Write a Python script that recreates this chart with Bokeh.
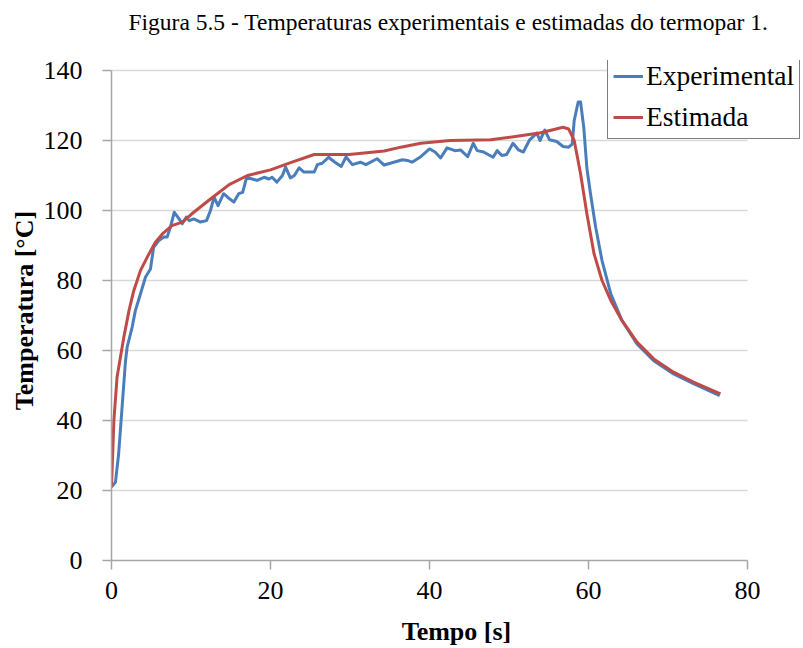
from bokeh.plotting import figure
from bokeh.models import Range1d, FixedTicker, Legend, LegendItem, Title
from bokeh.embed import file_html
from bokeh.resources import INLINE

t_exp = [0, 0.5, 0.9, 1.3, 1.76, 1.97, 2.6, 3.0, 3.65, 4.28, 4.9, 5.3, 5.95, 6.6, 7.0, 7.4, 7.9, 8.5,
         8.9, 9.4, 9.8, 10.35, 11.2, 11.95, 12.45, 12.9, 13.4, 14.1, 14.6, 15.4, 16.0, 16.5, 17.0,
         17.7, 18.3, 19.2, 19.8, 20.2, 20.8, 21.5, 21.9, 22.5, 23.0, 23.6, 24.2, 24.8, 25.5, 25.9,
         26.5, 27.3, 28.1, 28.9, 29.5, 30.3, 31.3, 32.0, 33.4, 34.3, 35.5, 36.6, 37.2, 37.8, 38.8,
         40.0, 40.7, 41.4, 42.2, 43.2, 43.9, 44.8, 45.5, 46.0, 46.8, 48.0, 48.5, 49.1, 49.7, 50.5,
         51.2, 51.8, 52.6, 53.5, 53.9, 54.5, 55.1, 56.0, 56.8, 57.5, 57.95, 58.2, 58.7, 59.0, 59.4,
         59.8, 60.25, 60.9, 61.7, 62.8, 64.2, 66.1, 68.2, 70.7, 73.2, 76.5]
temp_exp = [21, 22.4, 30.5, 42.8, 57, 61, 66.7, 71.4, 76.2, 81, 83.3, 89.5, 91.4, 92.4, 92.4, 95.2,
            99.5, 97.6, 96.2, 98.1, 97.1, 97.6, 96.7, 97.1, 100, 103.8, 101.4, 104.8, 103.8, 102.4,
            104.8, 105.2, 109.5, 109, 108.6, 109.5, 109, 109.5, 108.1, 110, 112.4, 109.3, 110, 112.2,
            111, 111, 111, 113.1, 113.5, 115.2, 113.8, 112.6, 115.3, 113.1, 113.8, 113.1, 114.8, 113,
            113.8, 114.5, 114.3, 113.8, 115.2, 117.6, 116.7, 115.0, 117.9, 117.1, 117.3, 115.4, 119.2,
            117.1, 116.7, 115.2, 117.1, 115.7, 116, 119.2, 117.3, 116.7, 120.2, 122.1, 120, 123, 120.2,
            119.7, 118.3, 118.1, 119, 125.7, 131, 131, 123.8, 112, 104.8, 95.2, 85.7, 76.2, 68.6, 61.9,
            57.1, 53.3, 50.5, 47.1]

t_est = [0, 0.3, 0.7, 1.55, 2.2, 2.8, 3.65, 4.5, 5.5, 6.4, 7.6, 8.9, 10.35, 12.45, 14.8, 17.1, 20.0,
         22.7, 25.5, 29.9, 34.3, 36.4, 38.9, 42.6, 47.7, 50.6, 54.0, 56.8, 57.5, 58.2, 59.0, 59.8,
         60.7, 61.7, 62.8, 64.2, 66.1, 68.2, 70.7, 73.2, 76.6]
temp_est = [21, 40, 52.4, 63.8, 71.4, 77.1, 82.9, 86.7, 90.9, 93.3, 95.7, 96.7, 99.5, 103.3, 107.4,
            110, 111.6, 113.8, 116, 116, 117, 118.1, 119.2, 120, 120.2, 121.1, 122.2, 123.8, 123.3,
            120, 110.5, 99, 87.6, 80, 74.3, 68.6, 62.4, 57.6, 53.8, 51, 47.6]

x_ticks = [0, 20, 40, 60, 80]
y_ticks = [0, 20, 40, 60, 80, 100, 120, 140]

title_text = "Figura 5.5 - Temperaturas experimentais e estimadas do termopar 1."
x_label = "Tempo [s]"
y_label = "Temperatura [°C]"
series_names = ["Experimental", "Estimada"]

FONT = "Liberation Serif"
BLUE = "#4A7EBB"
RED = "#BE4B48"
GRAY = "#A6A6A6"

# frame is a bit wider/taller than the axes so the legend box can sit over the corner
p = figure(frame_width=690, frame_height=500, output_backend="svg", toolbar_location=None,
           title_location=None,
           x_range=Range1d(0, 86.79), y_range=Range1d(0, 142.86),
           min_border_left=111, min_border_right=0, min_border_top=60, min_border_bottom=80)
p.outline_line_color = None
p.background_fill_color = "white"
p.border_fill_color = "white"

# spacer (closest to the frame), then the caption above it
p.add_layout(Title(text=" ", text_font_size="10px", standoff=9), "above")
p.add_layout(Title(text=title_text, align="left", offset=17, text_font=FONT,
                   text_font_size="23.5px", text_font_style="normal", text_color="black",
                   standoff=8), "above")

p.xgrid.grid_line_color = None
p.ygrid.grid_line_color = None
# horizontal gridlines limited to the x axis extent
p.segment(x0=[x_ticks[0]] * len(y_ticks[1:]), x1=[x_ticks[-1]] * len(y_ticks[1:]),
          y0=y_ticks[1:], y1=y_ticks[1:], line_color="#D9D9D9", line_width=1.5)

r1 = p.line(t_exp, temp_exp, line_color=BLUE, line_width=3, line_join="round")
r2 = p.line(t_est, temp_est, line_color=RED, line_width=3, line_join="round")

for ax, ticks in ((p.xaxis[0], x_ticks), (p.yaxis[0], y_ticks)):
    ax.ticker = FixedTicker(ticks=ticks)
    ax.bounds = (ticks[0], ticks[-1])
    ax.minor_tick_line_color = None
    ax.major_tick_in = 0
    ax.major_tick_out = 9
    ax.axis_line_color = GRAY
    ax.axis_line_width = 1.5
    ax.major_tick_line_color = GRAY
    ax.major_tick_line_width = 1.5
    ax.major_label_text_font = FONT
    ax.major_label_text_font_size = "26px"
    ax.major_label_text_color = "black"
    ax.axis_label_text_font = FONT
    ax.axis_label_text_font_size = "26px"
    ax.axis_label_text_font_style = "bold"
    ax.axis_label_text_color = "black"

p.xaxis.axis_label = x_label
p.yaxis.axis_label = y_label
p.xaxis.major_label_standoff = 12
p.yaxis.major_label_standoff = 20
p.xaxis.axis_label_standoff = 15
p.yaxis.axis_label_standoff = 2

legend = Legend(items=[LegendItem(label=series_names[0], renderers=[r1]),
                       LegendItem(label=series_names[1], renderers=[r2])],
                location=(496, 421))
legend.label_text_font = FONT
legend.label_text_font_size = "27.5px"
legend.label_text_color = "black"
legend.glyph_width = 30
legend.glyph_height = 20
legend.label_standoff = 3
legend.padding = 5
legend.spacing = 9
legend.margin = 0
legend.border_line_color = "black"
legend.border_line_width = 1.5
legend.background_fill_alpha = 1
p.add_layout(legend, "center")

open("out.html", "w").write(file_html(p, INLINE))
